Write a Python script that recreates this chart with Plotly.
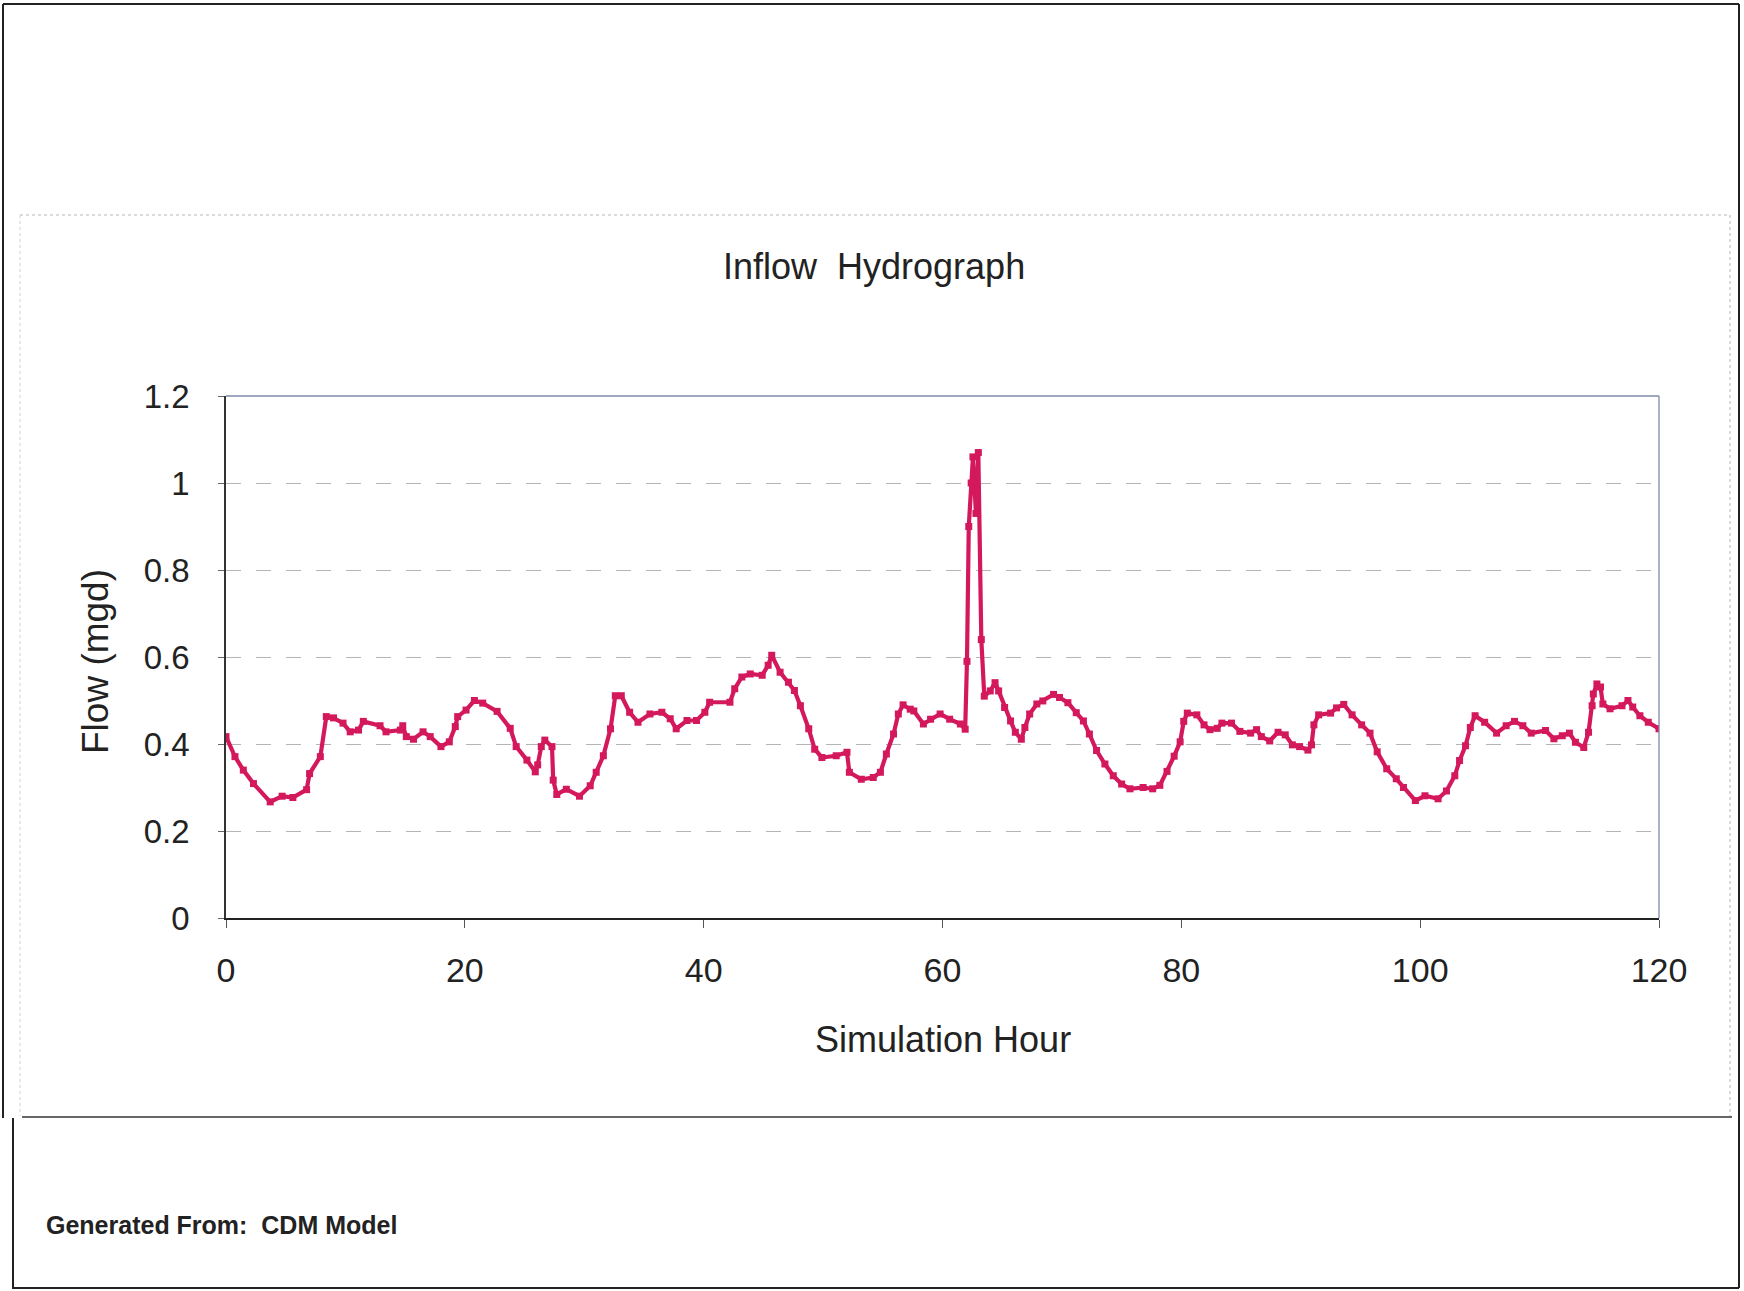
import plotly.graph_objects as go

# ---- data ----
hours = [0.0, 0.75, 1.45, 2.3, 3.7, 4.7, 5.6, 6.75, 7.0, 7.9, 8.4, 9.0, 9.8, 10.4, 11.1, 11.5,
         12.9, 13.4, 14.6, 14.8, 15.1, 15.7, 16.5, 17.1, 18.0, 18.7, 19.2, 19.4, 20.1, 20.8,
         21.5, 22.7, 23.8, 24.3, 25.2, 25.9, 26.1, 26.4, 26.7, 27.3, 27.4, 27.7, 28.5, 29.6,
         30.5, 31.0, 31.6, 32.2, 32.6, 33.1, 33.8, 34.5, 35.5, 36.5, 37.2, 37.7, 38.6, 39.4,
         40.1, 40.5, 42.2, 42.6, 43.2, 43.9, 44.9, 45.4, 45.7, 46.4, 47.1, 47.6, 48.1, 48.8,
         49.3, 49.9, 51.1, 52.0, 52.2, 53.2, 54.2, 54.8, 55.3, 55.9, 56.3, 56.7, 57.3, 57.6,
         58.4, 59.0, 59.8, 60.6, 61.5, 61.9, 62.05, 62.2, 62.4, 62.55, 62.8, 63.0, 63.25, 63.5,
         64.0, 64.4, 64.7, 65.2, 65.7, 66.1, 66.6, 66.9, 67.3, 67.9, 68.4, 69.3, 69.8, 70.5,
         71.2, 71.8, 72.3, 72.9, 73.6, 74.3, 75.0, 75.7, 76.8, 77.6, 78.2, 78.8, 79.4, 79.9,
         80.2, 80.5, 81.3, 81.9, 82.4, 83.0, 83.4, 84.2, 84.9, 85.8, 86.3, 86.7, 87.4, 88.1,
         88.7, 89.3, 89.9, 90.6, 90.9, 91.1, 91.5, 92.5, 93.0, 93.6, 94.3, 95.1, 95.8, 96.4,
         97.2, 98.0, 98.6, 99.6, 100.4, 101.5, 102.2, 102.9, 103.3, 103.8, 104.2, 104.6, 105.4,
         106.4, 107.2, 107.9, 108.6, 109.3, 110.5, 111.2, 111.9, 112.5, 113.0, 113.7, 114.1,
         114.4, 114.5, 114.8, 115.1, 115.3, 115.9, 116.9, 117.4, 117.8, 118.4, 119.1, 120.0]

flow = [0.417, 0.371, 0.34, 0.309, 0.267, 0.28, 0.277, 0.295, 0.332, 0.371, 0.463, 0.46, 0.448,
        0.428, 0.432, 0.452, 0.442, 0.428, 0.432, 0.442, 0.417, 0.411, 0.428, 0.417, 0.394,
        0.405, 0.44, 0.463, 0.478, 0.50, 0.494, 0.475, 0.436, 0.394, 0.363, 0.336, 0.352,
        0.394, 0.409, 0.394, 0.317, 0.284, 0.296, 0.28, 0.304, 0.335, 0.373, 0.435, 0.511,
        0.511, 0.473, 0.45, 0.469, 0.473, 0.458, 0.435, 0.454, 0.454, 0.473, 0.496, 0.496,
        0.527, 0.554, 0.561, 0.558, 0.581, 0.604, 0.565, 0.542, 0.523, 0.488, 0.435, 0.388,
        0.369, 0.373, 0.381, 0.335, 0.319, 0.323, 0.335, 0.377, 0.423, 0.469, 0.49, 0.48,
        0.476, 0.446, 0.457, 0.469, 0.457, 0.446, 0.434, 0.59, 0.90, 1.00, 1.06, 0.93, 1.07,
        0.64, 0.51, 0.522, 0.541, 0.522, 0.484, 0.453, 0.427, 0.411, 0.438, 0.469, 0.492,
        0.499, 0.514, 0.507, 0.495, 0.472, 0.453, 0.423, 0.385, 0.354, 0.327, 0.308, 0.297,
        0.30, 0.297, 0.305, 0.337, 0.372, 0.405, 0.452, 0.471, 0.467, 0.444, 0.433, 0.436,
        0.448, 0.448, 0.429, 0.425, 0.433, 0.417, 0.407, 0.427, 0.421, 0.398, 0.394, 0.386,
        0.398, 0.444, 0.467, 0.471, 0.483, 0.491, 0.467, 0.444, 0.425, 0.382, 0.343, 0.32,
        0.30, 0.27, 0.281, 0.274, 0.292, 0.327, 0.362, 0.396, 0.438, 0.465, 0.45, 0.425,
        0.442, 0.452, 0.442, 0.425, 0.431, 0.412, 0.419, 0.425, 0.404, 0.392, 0.427, 0.488,
        0.515, 0.538, 0.531, 0.492, 0.481, 0.488, 0.50, 0.485, 0.465, 0.45, 0.435]

x_ticks = [0, 20, 40, 60, 80, 100, 120]
y_ticks = [0, 0.2, 0.4, 0.6, 0.8, 1.0, 1.2]
y_tick_text = ["0", "0.2", "0.4", "0.6", "0.8", "1", "1.2"]

title_text = "Inflow Hydrograph"
x_title = "Simulation Hour"
y_title = "Flow (mgd)"
footer_text = "Generated From:  CDM Model"

# ---- layout geometry (pixels) ----
W, H = 1744, 1291
PL, PR, PT, PB = 226, 1659, 396, 918  # plot area

def px(xp):
    return (xp - PL) / (PR - PL)

def py(yp):
    return (PB - yp) / (PB - PT)

FONT = "Arial, Liberation Sans, Helvetica, sans-serif"
LINE_COLOR = "rgb(212,24,92)"

fig = go.Figure()
fig.add_trace(go.Scatter(
    x=hours, y=flow, mode="lines+markers",
    line=dict(color=LINE_COLOR, width=4.2),
    marker=dict(color=LINE_COLOR, size=7, symbol="square"),
    showlegend=False, hoverinfo="x+y",
))

fig.update_layout(
    width=W, height=H, autosize=False,
    margin=dict(l=PL, r=W - PR, t=PT, b=H - PB),
    paper_bgcolor="white", plot_bgcolor="white",
    font=dict(family=FONT, color="#222"),
    showlegend=False,
)

fig.update_xaxes(
    range=[0, 120], tickvals=x_ticks, ticktext=[str(v) for v in x_ticks],
    showgrid=False, zeroline=False,
    showline=True, linecolor="#222", linewidth=2, mirror=False,
    ticks="outside", ticklen=8, tickcolor="#555", tickwidth=1,
    tickfont=dict(size=34, family=FONT, color="#222"),
    ticklabelstandoff=13,
)
fig.update_yaxes(
    range=[0, 1.2], tickvals=y_ticks, ticktext=y_tick_text,
    showgrid=True, gridcolor="#b4b4b4", gridwidth=1, griddash="longdash",
    zeroline=False,
    showline=True, linecolor="#333", linewidth=1.5, mirror=False,
    ticks="outside", ticklen=6, tickcolor="#666", tickwidth=1,
    tickfont=dict(size=33, family=FONT, color="#222"),
    ticklabelstandoff=22,
)

shapes = []
# plot area border (top & right greyish-blue)
shapes.append(dict(type="line", xref="paper", yref="paper", x0=0, x1=1, y0=1, y1=1,
                   line=dict(color="#7f8aa8", width=1.3)))
shapes.append(dict(type="line", xref="paper", yref="paper", x0=1, x1=1, y0=0, y1=1,
                   line=dict(color="#7f8aa8", width=1.3)))
# chart box (dotted light) top/right/left
shapes.append(dict(type="line", xref="paper", yref="paper", x0=px(20), x1=px(1730), y0=py(215), y1=py(215),
                   line=dict(color="#b5b5b5", width=1, dash="dot")))
shapes.append(dict(type="line", xref="paper", yref="paper", x0=px(1730), x1=px(1730), y0=py(215), y1=py(1116),
                   line=dict(color="#b5b5b5", width=1, dash="dot")))
shapes.append(dict(type="line", xref="paper", yref="paper", x0=px(20), x1=px(20), y0=py(215), y1=py(1116),
                   line=dict(color="#d0d0d0", width=1, dash="dot")))
# chart box bottom (solid)
shapes.append(dict(type="line", xref="paper", yref="paper", x0=px(22), x1=px(1732), y0=py(1117), y1=py(1117),
                   line=dict(color="#333", width=1.5)))
# outer page frame
shapes.append(dict(type="line", xref="paper", yref="paper", x0=px(3), x1=px(1739), y0=py(4), y1=py(4),
                   line=dict(color="#222", width=2)))
shapes.append(dict(type="line", xref="paper", yref="paper", x0=px(1739), x1=px(1739), y0=py(4), y1=py(1288),
                   line=dict(color="#222", width=2)))
shapes.append(dict(type="line", xref="paper", yref="paper", x0=px(3), x1=px(3), y0=py(4), y1=py(1118),
                   line=dict(color="#222", width=2)))
shapes.append(dict(type="line", xref="paper", yref="paper", x0=px(13), x1=px(13), y0=py(1118), y1=py(1289),
                   line=dict(color="#222", width=2)))
shapes.append(dict(type="line", xref="paper", yref="paper", x0=px(13), x1=px(1739), y0=py(1288), y1=py(1288),
                   line=dict(color="#222", width=2)))
fig.update_layout(shapes=shapes)

annotations = [
    dict(text=title_text.replace(" ", "&nbsp; "), x=px(874), y=py(267), xref="paper", yref="paper",
         xanchor="center", yanchor="middle", showarrow=False,
         font=dict(size=36, family=FONT, color="#222")),
    dict(text=x_title, x=px(943), y=py(1039), xref="paper", yref="paper",
         xanchor="center", yanchor="middle", showarrow=False,
         font=dict(size=36, family=FONT, color="#222")),
    dict(text=y_title, x=px(95), y=py(662), xref="paper", yref="paper",
         xanchor="center", yanchor="middle", showarrow=False, textangle=-90,
         font=dict(size=37, family=FONT, color="#222")),
    dict(text="<b>" + footer_text + "</b>", x=px(44), y=py(1225), xref="paper", yref="paper",
         xanchor="left", yanchor="middle", showarrow=False,
         font=dict(size=25, family=FONT, color="#222")),
]
fig.update_layout(annotations=annotations)

fig.write_html("out.html")
